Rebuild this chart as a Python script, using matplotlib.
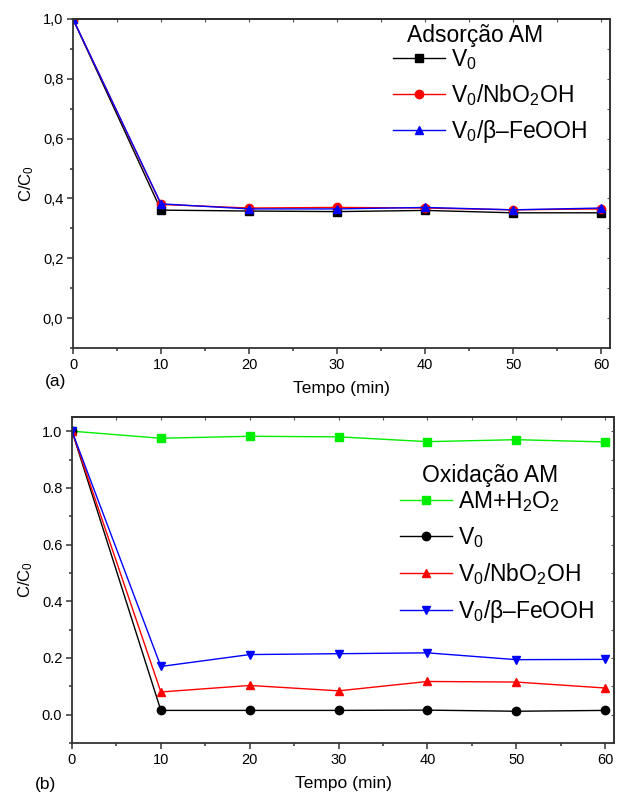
import matplotlib
matplotlib.use("Agg")
import matplotlib.pyplot as plt
from matplotlib.ticker import MultipleLocator, FuncFormatter, NullFormatter

plt.rcParams['font.family'] = ['Liberation Sans', 'DejaVu Sans']
plt.rcParams['mathtext.fontset'] = 'custom'
plt.rcParams['mathtext.rm'] = 'Liberation Sans'
plt.rcParams['mathtext.it'] = 'Liberation Sans:italic'

# ---- data ----
time = [0, 10, 20, 30, 40, 50, 60]

# (a) Adsorption
ads_v0 = [1.0, 0.361, 0.358, 0.356, 0.360, 0.352, 0.352]
ads_nb = [1.0, 0.380, 0.368, 0.370, 0.368, 0.362, 0.365]
ads_fe = [1.0, 0.382, 0.365, 0.365, 0.370, 0.362, 0.368]
ads_labels = ["V$_0$", "V$_0$/NbO$_2$OH", "V$_0$/β–FeOOH"]

# (b) Oxidation
ox_h2o2 = [1.0, 0.975, 0.982, 0.980, 0.963, 0.970, 0.962]
ox_v0 = [1.0, 0.015, 0.015, 0.015, 0.016, 0.012, 0.015]
ox_nb = [1.0, 0.080, 0.103, 0.084, 0.117, 0.115, 0.094]
ox_fe = [1.0, 0.170, 0.212, 0.215, 0.218, 0.194, 0.195]
ox_labels = ["AM+H$_2$O$_2$", "V$_0$", "V$_0$/NbO$_2$OH", "V$_0$/β–FeOOH"]

fig = plt.figure(figsize=(6.18, 7.94), dpi=100)
W, H = 618, 794
axa = fig.add_axes([73 / W, 1 - 348 / H, (610 - 73) / W, (348 - 19) / H])
axb = fig.add_axes([72 / W, 1 - 743 / H, (614 - 72) / W, (743 - 417) / H])


def style(ax, ylim, fmt):
    ax.set_xlim(0, 61)
    ax.set_ylim(*ylim)
    ax.xaxis.set_major_locator(MultipleLocator(10))
    ax.xaxis.set_minor_locator(MultipleLocator(5))
    ax.yaxis.set_major_locator(MultipleLocator(0.2))
    ax.yaxis.set_minor_locator(MultipleLocator(0.1))
    ax.yaxis.set_major_formatter(FuncFormatter(fmt))
    ax.tick_params(which='major', direction='out', length=4, width=1.1, labelsize=10.5,
                   color='#333333', pad=3)
    ax.tick_params(which='minor', direction='out', length=2.5, width=1.1, color='#333333')
    for s in ax.spines.values():
        s.set_linewidth(1.3)
        s.set_color('#333333')
    top = ax.secondary_xaxis('top')
    top.xaxis.set_major_locator(MultipleLocator(5))
    top.xaxis.set_major_formatter(NullFormatter())
    top.tick_params(direction='in', length=2, width=0.8, color='#555555')
    top.spines['top'].set_linewidth(1.3)
    right = ax.secondary_yaxis('right')
    right.yaxis.set_major_locator(MultipleLocator(0.1))
    right.yaxis.set_major_formatter(NullFormatter())
    right.tick_params(direction='in', length=2, width=0.8, color='#555555')
    right.spines['right'].set_linewidth(1.3)
    right.spines['right'].set_color('#555555')
    ax.set_xlabel("Tempo (min)", fontsize=12.5, labelpad=7)
    ax.set_ylabel("C/C$_0$", fontsize=12, labelpad=5)


leg_kw = dict(loc='upper left', frameon=False, fontsize=16.5, handlelength=2.25,
              handletextpad=0.3, borderpad=0, borderaxespad=0)

mk = dict(markersize=6, linewidth=1.0)
axa.plot(time, ads_v0, color='black', marker='s', label=ads_labels[0], **mk)
axa.plot(time, ads_nb, color='red', marker='o', label=ads_labels[1], **mk)
axa.plot(time, ads_fe, color='blue', marker='^', label=ads_labels[2], **mk)
style(axa, (-0.1, 1.0), lambda v, p: f"{v:.1f}".replace('.', ','))
axa.legend(bbox_to_anchor=(393 / W, 1 - 47.5 / H), bbox_transform=fig.transFigure,
           labelspacing=0.42, **leg_kw)
fig.text(475 / W, 1 - 35.5 / H, "Adsorção AM", fontsize=16.5, ha='center', va='center')
fig.text(45 / W, 1 - 382 / H, "(a)", fontsize=12.5, va='center', ha='left')

axb.plot(time, ox_h2o2, color='#00ee00', marker='s', label=ox_labels[0], **mk)
axb.plot(time, ox_v0, color='black', marker='o', label=ox_labels[1], **mk)
axb.plot(time, ox_nb, color='red', marker='^', label=ox_labels[2], **mk)
axb.plot(time, ox_fe, color='blue', marker='v', label=ox_labels[3], **mk)
style(axb, (-0.1, 1.05), lambda v, p: f"{v:.1f}")
axb.legend(bbox_to_anchor=(400 / W, 1 - 489 / H), bbox_transform=fig.transFigure,
           labelspacing=0.48, **leg_kw)
fig.text(490 / W, 1 - 475.5 / H, "Oxidação AM", fontsize=16.5, ha='center', va='center')
fig.text(35 / W, 1 - 785 / H, "(b)", fontsize=12.5, va='center', ha='left')

fig.savefig("out.png", dpi=100)
